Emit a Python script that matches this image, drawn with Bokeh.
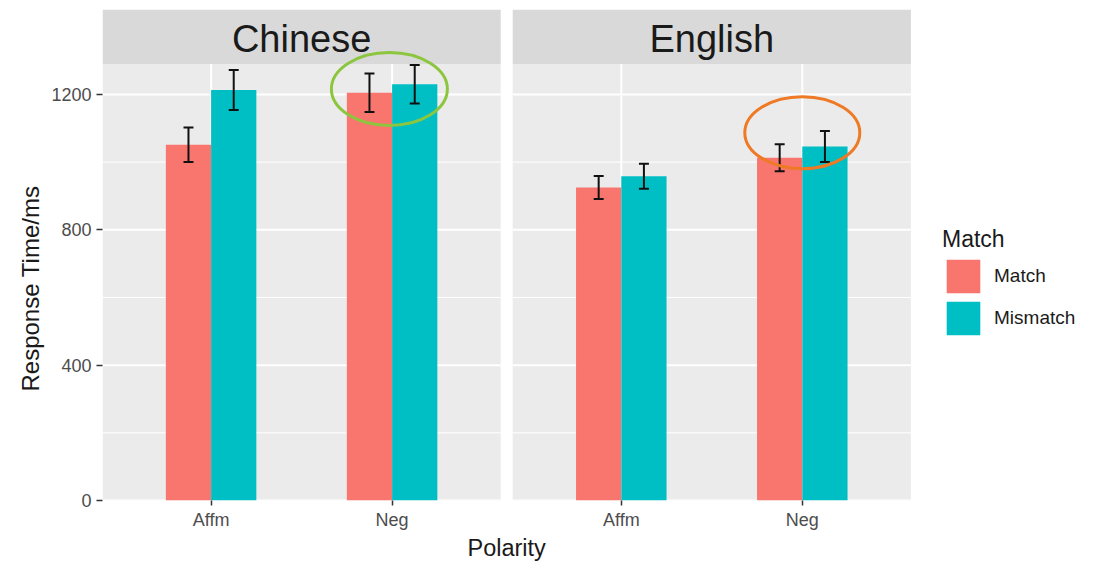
import numpy as np
from bokeh.plotting import figure
from bokeh.models import Range1d, FixedTicker, Legend, LegendItem, ColumnDataSource, Title
from bokeh.embed import file_html
from bokeh.resources import INLINE
from bokeh.core.properties import value

# ---------------- data ----------------
languages = ["Chinese", "English"]
polarity = ["Affm", "Neg"]
groups = ["Match", "Mismatch"]
# order: Chinese-Affm, Chinese-Neg, English-Affm, English-Neg
match_mean = [1051, 1205, 925, 1013]
match_se = [51, 57, 34, 40]
mismatch_mean = [1213, 1230, 958, 1046]
mismatch_se = [59, 57, 37, 46]
y_ticks = [0, 400, 800, 1200]
y_minor = [200, 600, 1000]

# ---------------- layout constants ----------------
FONT_NAME = "Liberation Sans"
FONT = value(FONT_NAME)
COLORS = {"Match": "#F8766D", "Mismatch": "#00BFC4"}
PX = 181.0                 # pixels per category unit
GAP = 12 / PX              # gap between facets
PANEL_W = 2.2
OFFSET = PANEL_W + GAP
PANEL_TOP = 1290
Y_TOP = 1451
FRAME_W = 1002
DODGE = 0.125
BAR_W = 0.25
CAP = 0.055

panel_left = [0.4 + i * OFFSET for i in range(len(languages))]
panel_right = [l + PANEL_W for l in panel_left]
cat_x = [j + 1 + i * OFFSET for i in range(len(languages)) for j in range(len(polarity))]
cat_lab = [polarity[j] for i in range(len(languages)) for j in range(len(polarity))]

p = figure(width=1104, height=563,
           x_range=Range1d(0.4, 0.4 + FRAME_W / PX), y_range=Range1d(0, Y_TOP),
           output_backend="svg", toolbar_location=None,
           min_border_left=102, min_border_right=0, min_border_top=9, min_border_bottom=63,
           background_fill_color="white", border_fill_color="white", outline_line_color=None)
p.xgrid.visible = False
p.ygrid.visible = False

# panels
p.quad(left=panel_left, right=panel_right, bottom=0, top=PANEL_TOP,
       fill_color="#EBEBEB", line_color=None)

# grid lines
for yv in y_minor:
    p.segment(x0=panel_left, x1=panel_right, y0=[yv] * 2, y1=[yv] * 2,
              line_color="white", line_width=1)
for yv in y_ticks:
    p.segment(x0=panel_left, x1=panel_right, y0=[yv] * 2, y1=[yv] * 2,
              line_color="white", line_width=2)
p.segment(x0=cat_x, x1=cat_x, y0=[0] * len(cat_x), y1=[PANEL_TOP] * len(cat_x),
          line_color="white", line_width=2)

# bars + error bars
renderers = {}
for g, means, ses, sgn in [("Match", match_mean, match_se, -1), ("Mismatch", mismatch_mean, mismatch_se, 1)]:
    xs = [c + sgn * DODGE for c in cat_x]
    src = ColumnDataSource(dict(x=xs, top=means,
                                lo=[m - s for m, s in zip(means, ses)],
                                hi=[m + s for m, s in zip(means, ses)],
                                cl=[x - CAP / 2 for x in xs], cr=[x + CAP / 2 for x in xs]))
    renderers[g] = p.vbar(x="x", top="top", bottom=0, width=BAR_W, source=src,
                          fill_color=COLORS[g], line_color=None)
    p.segment(x0="x", x1="x", y0="lo", y1="hi", source=src, line_color="#111111", line_width=2)
    p.segment(x0="cl", x1="cr", y0="lo", y1="lo", source=src, line_color="#111111", line_width=2)
    p.segment(x0="cl", x1="cr", y0="hi", y1="hi", source=src, line_color="#111111", line_width=2)

# strips
p.quad(left=panel_left, right=panel_right, bottom=PANEL_TOP, top=Y_TOP,
       fill_color="#D9D9D9", line_color=None)
p.text(x=[(l + r) / 2 for l, r in zip(panel_left, panel_right)],
       y=[(PANEL_TOP + Y_TOP) / 2 - 6] * 2,
       text=languages, text_align="center", text_baseline="middle",
       text_font=FONT, text_font_size="38px", text_color="#1A1A1A")

# highlight ellipses
p.ellipse(x=[cat_x[1] - 0.015, cat_x[3]], y=[1216, 1087], width=[116, 115], height=[73, 72],
          width_units="screen", height_units="screen", fill_color=None,
          line_color=["#8CC63F", "#EE7A25"], line_width=3)

# axes
ya = p.yaxis[0]
ya.ticker = FixedTicker(ticks=y_ticks, minor_ticks=[])
ya.axis_line_color = None
ya.major_tick_in = 0
ya.major_tick_out = 6
ya.minor_tick_out = 0
ya.major_tick_line_color = "#333333"
ya.major_tick_line_width = 1.5
ya.major_label_standoff = 5
ya.major_label_text_font = FONT_NAME
ya.major_label_text_font_size = "18px"
ya.major_label_text_color = "#4D4D4D"

xa = p.xaxis[0]
xa.ticker = FixedTicker(ticks=cat_x, minor_ticks=[])
xa.major_label_overrides = {x: l for x, l in zip(cat_x, cat_lab)}
xa.axis_line_color = None
xa.major_tick_in = 0
xa.major_tick_out = 5
xa.minor_tick_out = 0
xa.major_tick_line_color = "#333333"
xa.major_tick_line_width = 1.5
xa.major_label_standoff = 4
xa.major_label_text_font = FONT_NAME
xa.major_label_text_font_size = "18px"
xa.major_label_text_color = "#4D4D4D"

# axis titles (placed with offsets measured from the frame's left/bottom edge)
p.add_layout(Title(text="Polarity", align="left", offset=365, standoff=0,
                   text_font=FONT_NAME, text_font_size="23.5px", text_font_style="normal",
                   text_color="#1A1A1A"), "below")
p.add_layout(Title(text="Response Time/ms", align="left", offset=109, standoff=9,
                   text_font=FONT_NAME, text_font_size="24px", text_font_style="normal",
                   text_color="#1A1A1A"), "left")

# legend
legend = Legend(items=[LegendItem(label=g, renderers=[renderers[g]]) for g in groups],
                title="Match", location=(840, 161), orientation="vertical",
                title_text_font=FONT_NAME, title_text_font_size="23px", title_text_font_style="normal",
                title_text_color="#1A1A1A", title_standoff=2,
                label_text_font=FONT_NAME, label_text_font_size="19px", label_text_color="#1A1A1A",
                glyph_width=42, glyph_height=42, label_height=42, spacing=-3, label_standoff=10,
                padding=0, margin=0, background_fill_alpha=0, border_line_alpha=0)
p.add_layout(legend)

open("out.html", "w").write(file_html(p, INLINE))
